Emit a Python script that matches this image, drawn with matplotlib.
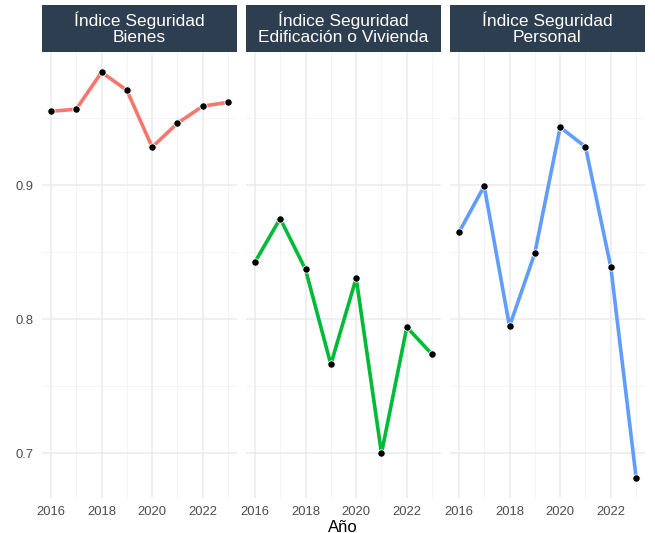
import matplotlib
matplotlib.use('Agg')
import matplotlib.pyplot as plt

plt.rcParams['font.family'] = ['Liberation Sans', 'DejaVu Sans']

years = [2016, 2017, 2018, 2019, 2020, 2021, 2022, 2023]
bienes = [0.9552, 0.9567, 0.9843, 0.9709, 0.9284, 0.9463, 0.9590, 0.9619]
edificacion = [0.8425, 0.8751, 0.8371, 0.7662, 0.8306, 0.6998, 0.7940, 0.7737]
personal = [0.8647, 0.8993, 0.7946, 0.8493, 0.9433, 0.9286, 0.8388, 0.6816]

titles = ['Índice Seguridad\nBienes',
          'Índice Seguridad\nEdificación o Vivienda',
          'Índice Seguridad\nPersonal']
series = [bienes, edificacion, personal]
colors = ['#F8766D', '#00BA38', '#619CFF']

W, H = 655, 533
fig = plt.figure(figsize=(W / 100, H / 100), dpi=100)

panel_x = [42, 246, 450]
panel_w = 195
top, bottom = 52, 498
strip_top, strip_bot = 5, 52

all_vals = bienes + edificacion + personal
lo, hi = min(all_vals), max(all_vals)
pad = (hi - lo) * 0.05

for i, (x0, vals, col, title) in enumerate(zip(panel_x, series, colors, titles)):
    ax = fig.add_axes([x0 / W, 1 - bottom / H, panel_w / W, (bottom - top) / H])
    ax.set_xlim(2016 - 0.35, 2023 + 0.35)
    ax.set_ylim(lo - pad, hi + pad)
    ax.set_xticks([2016, 2018, 2020, 2022])
    ax.set_xticks([2017, 2019, 2021, 2023], minor=True)
    ax.set_yticks([0.7, 0.8, 0.9])
    ax.set_yticks([0.75, 0.85, 0.95], minor=True)
    ax.grid(which='major', color='#EBEBEB', linewidth=1.1)
    ax.grid(which='minor', color='#F2F2F2', linewidth=0.6)
    ax.set_axisbelow(True)
    for s in ax.spines.values():
        s.set_visible(False)
    ax.tick_params(which='both', length=0, labelsize=9.4, colors='#4D4D4D', pad=6)
    if i > 0:
        ax.tick_params(axis='y', labelleft=False)
    ax.plot(years, vals, color=col, linewidth=2.6, zorder=2)
    ax.scatter(years, vals, s=28, color='black', edgecolors='white', linewidths=0.6, zorder=3)

    sax = fig.add_axes([x0 / W, 1 - strip_bot / H, panel_w / W, (strip_bot - strip_top) / H])
    sax.set_facecolor('#2C3E50')
    sax.set_xticks([])
    sax.set_yticks([])
    for s in sax.spines.values():
        s.set_visible(False)
    sax.text(0.5, 0.5, title, color='white', fontsize=12.5, ha='center', va='center',
             linespacing=1.12, transform=sax.transAxes)

fig.text(343 / W, 1 - 527 / H, 'Año', fontsize=12, ha='center', va='center', color='black')

fig.savefig('out.png', dpi=100, facecolor='white')
